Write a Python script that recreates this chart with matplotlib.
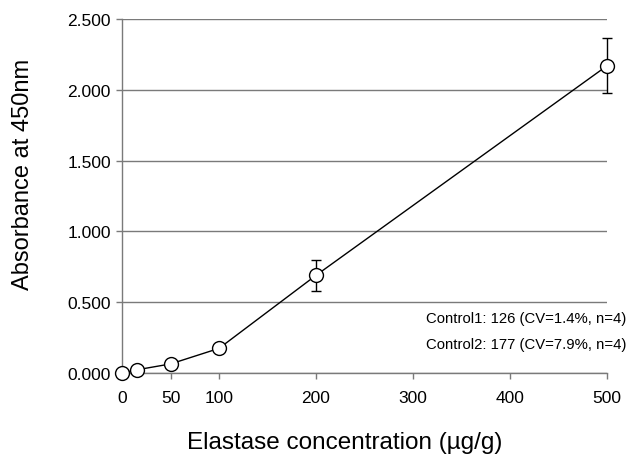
import matplotlib
matplotlib.use("Agg")
import matplotlib.pyplot as plt

conc = [0, 15.6, 50, 100, 200, 500]
absorb = [0.000, 0.023, 0.064, 0.174, 0.690, 2.170]
err = [0, 0, 0, 0, 0.110, 0.195]
xticks = [0, 50, 100, 200, 300, 400, 500]
yticks = [0.0, 0.5, 1.0, 1.5, 2.0, 2.5]
ytick_labels = ["0.000", "0.500", "1.000", "1.500", "2.000", "2.500"]
notes = ["Control1: 126 (CV=1.4%, n=4)", "Control2: 177 (CV=7.9%, n=4)"]

plt.rcParams['font.family'] = ['Liberation Sans', 'DejaVu Sans']

fig = plt.figure(figsize=(6.3, 4.56), dpi=100)
ax = fig.add_axes([0.1937, 0.1798, 0.7698, 0.7762])

for y in yticks:
    ax.axhline(y, color='#7a7a7a', lw=1.0, zorder=1)

eb = ax.errorbar(conc, absorb, yerr=[e if e > 0 else float('nan') for e in err],
                 fmt='none', ecolor='black', elinewidth=1.0, capsize=3.5, capthick=1.0, zorder=2)
for art in eb.lines[1]:
    art.set_clip_on(False)
for art in eb.lines[2]:
    art.set_clip_on(False)
ax.plot(conc, absorb, color='black', lw=1.0, marker='o', markersize=10,
        markerfacecolor='white', markeredgecolor='black', markeredgewidth=1.0,
        zorder=3, clip_on=False)

ax.set_xlim(0, 500)
ax.set_ylim(0, 2.5)
ax.set_xticks(xticks)
ax.set_xticklabels([str(x) for x in xticks], fontsize=12.5)
ax.set_yticks(yticks)
ax.set_yticklabels(ytick_labels, fontsize=12.5)

for s in ['top', 'right']:
    ax.spines[s].set_visible(False)
for s in ['left', 'bottom']:
    ax.spines[s].set_color('#7a7a7a')
    ax.spines[s].set_linewidth(1.0)
ax.tick_params(axis='both', color='#7a7a7a', length=4, width=1.0)
ax.tick_params(axis='y', pad=4)
ax.tick_params(axis='x', pad=8.5)

ax.set_ylabel("Absorbance at 450nm", fontsize=17)
ax.yaxis.set_label_coords(-0.204, 0.565)
ax.yaxis.label.set_va('center')
ax.set_xlabel("Elastase concentration (µg/g)", fontsize=17.5)
ax.xaxis.set_label_coords(0.46, -0.196)
ax.xaxis.label.set_va('center')

fig.text(0.994, 0.300, notes[0], ha='right', va='center', fontsize=10.75)
fig.text(0.994, 0.243, notes[1], ha='right', va='center', fontsize=10.75)

fig.savefig("out.png", dpi=100)
